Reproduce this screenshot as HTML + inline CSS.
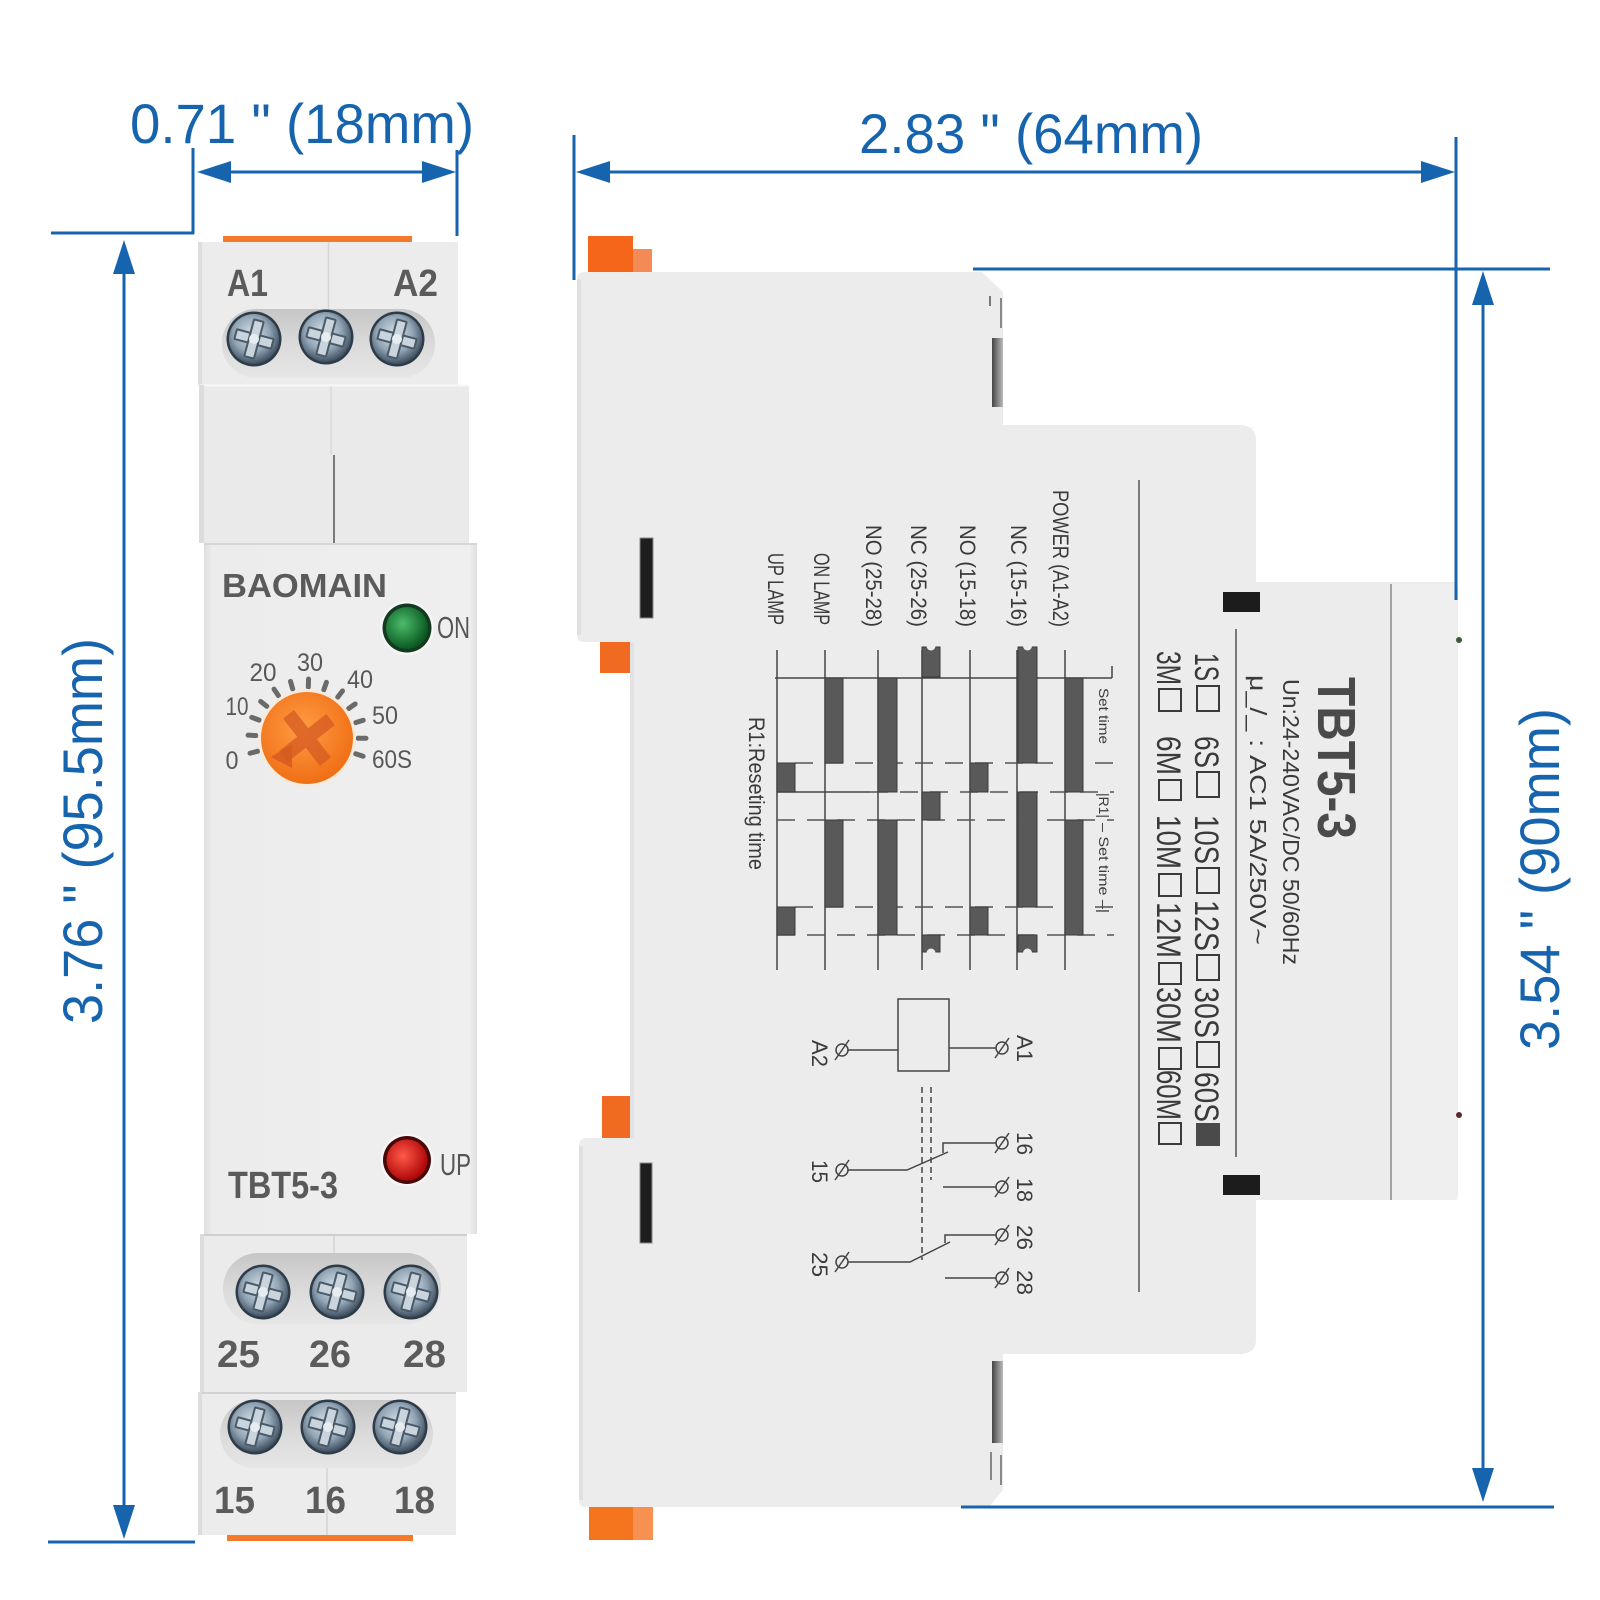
<!DOCTYPE html>
<html><head><meta charset="utf-8"><style>html,body{margin:0;padding:0;background:#fff}svg{display:block}</style></head>
<body>
<svg width="1600" height="1600" viewBox="0 0 1600 1600" xmlns="http://www.w3.org/2000/svg" font-family="'Liberation Sans', Arial, sans-serif">
<defs>
<radialGradient id="sg" cx="45%" cy="40%" r="60%"><stop offset="0" stop-color="#d6e0e8"/><stop offset="0.6" stop-color="#93a6b6"/><stop offset="1" stop-color="#3e4f60"/></radialGradient>
<linearGradient id="bar" x1="0" y1="0" x2="0" y2="1"><stop offset="0" stop-color="#c6c6c6"/><stop offset="0.5" stop-color="#dadada"/><stop offset="1" stop-color="#e6e6e6"/></linearGradient>
<radialGradient id="dial" cx="45%" cy="40%" r="60%"><stop offset="0" stop-color="#ff9c45"/><stop offset="1" stop-color="#f06f15"/></radialGradient>
<radialGradient id="grn" cx="40%" cy="40%" r="60%"><stop offset="0" stop-color="#4cbc6a"/><stop offset="1" stop-color="#0b5a22"/></radialGradient>
<radialGradient id="red" cx="40%" cy="40%" r="60%"><stop offset="0" stop-color="#ff5a4a"/><stop offset="1" stop-color="#b00808"/></radialGradient>
<linearGradient id="face" x1="0" y1="0" x2="1" y2="0"><stop offset="0" stop-color="#dedede"/><stop offset="0.03" stop-color="#ececec"/><stop offset="0.97" stop-color="#efefef"/><stop offset="1" stop-color="#e0e0e0"/></linearGradient>
<linearGradient id="slot" x1="0" y1="0" x2="1" y2="0"><stop offset="0" stop-color="#444"/><stop offset="1" stop-color="#bbb"/></linearGradient>
<g id="scr"><circle r="27.5" fill="#2e3b48"/><circle r="25" fill="url(#sg)"/><g transform="rotate(15)" fill="#c9d4dc" stroke="#4a5a69" stroke-width="2"><rect x="-19" y="-5" width="38" height="10" rx="1"/><rect x="-5" y="-19" width="10" height="38" rx="1"/></g><circle r="5" fill="#e6ecf0"/></g>
</defs>
<rect width="1600" height="1600" fill="#fff"/>

<!-- ============ LEFT DEVICE ============ -->
<rect x="223" y="236" width="189" height="7" fill="#f4792b"/>
<rect x="198" y="242" width="260" height="143" fill="#ececec"/>
<rect x="198" y="242" width="4" height="143" fill="#dedede"/>
<line x1="328.5" y1="242" x2="328.5" y2="309" stroke="#d6d6d6" stroke-width="1.5"/>
<rect x="222" y="309" width="213" height="69" rx="34" fill="url(#bar)"/>
<use href="#scr" transform="translate(254,339)"/>
<use href="#scr" transform="translate(326,337)"/>
<use href="#scr" transform="translate(397,339)"/>
<text x="227" y="296" font-size="38" font-weight="bold" fill="#5b5b5b" textLength="41" lengthAdjust="spacingAndGlyphs">A1</text>
<text x="393" y="296" font-size="38" font-weight="bold" fill="#5b5b5b" textLength="45" lengthAdjust="spacingAndGlyphs">A2</text>

<rect x="199" y="385" width="270" height="158" fill="#eaeaea"/>
<line x1="199" y1="385.5" x2="469" y2="385.5" stroke="#f7f7f7" stroke-width="2"/>
<rect x="199" y="385" width="5" height="158" fill="#dcdcdc"/>
<line x1="331" y1="386" x2="331" y2="455" stroke="#dadada" stroke-width="1.5"/>
<line x1="334" y1="455" x2="334" y2="543" stroke="#555" stroke-width="1.5"/>

<rect x="204" y="543" width="273" height="691" fill="url(#face)"/>
<line x1="204" y1="544" x2="477" y2="544" stroke="#d6d6d6" stroke-width="2"/>
<text x="222" y="597" font-size="33" font-weight="bold" fill="#5a5a5a" textLength="165" lengthAdjust="spacingAndGlyphs">BAOMAIN</text>
<circle cx="407" cy="628" r="27" fill="#f6f6f6"/>
<circle cx="407" cy="628" r="24.5" fill="#143a1f"/>
<circle cx="407" cy="628" r="21" fill="url(#grn)"/>
<text x="437" y="638" font-size="31" fill="#555" textLength="33" lengthAdjust="spacingAndGlyphs">ON</text>

<!-- dial -->
<g transform="translate(307,738)" stroke="#6a6a6a" stroke-width="5" stroke-linecap="round">
<line x1="51" y1="0" x2="59" y2="0" transform="rotate(165)"/>
<line x1="51" y1="0" x2="59" y2="0" transform="rotate(182.75)"/>
<line x1="51" y1="0" x2="59" y2="0" transform="rotate(200.5)"/>
<line x1="51" y1="0" x2="59" y2="0" transform="rotate(218.25)"/>
<line x1="51" y1="0" x2="59" y2="0" transform="rotate(236)"/>
<line x1="51" y1="0" x2="59" y2="0" transform="rotate(253.75)"/>
<line x1="51" y1="0" x2="59" y2="0" transform="rotate(271.5)"/>
<line x1="51" y1="0" x2="59" y2="0" transform="rotate(289.25)"/>
<line x1="51" y1="0" x2="59" y2="0" transform="rotate(307)"/>
<line x1="51" y1="0" x2="59" y2="0" transform="rotate(324.75)"/>
<line x1="51" y1="0" x2="59" y2="0" transform="rotate(342.5)"/>
<line x1="51" y1="0" x2="59" y2="0" transform="rotate(360.25)"/>
<line x1="51" y1="0" x2="59" y2="0" transform="rotate(378)"/>
</g>
<circle cx="307" cy="738" r="49" fill="#f7e9dc"/>
<circle cx="307" cy="738" r="46" fill="url(#dial)"/>
<g transform="translate(307,738) rotate(-38)" fill="#d65a22" opacity="0.75">
<rect x="-30" y="-7" width="60" height="14"/>
<rect x="-7" y="-30" width="14" height="60"/>
</g>
<polygon points="271,757 292,744 292,768" fill="#d65a22" opacity="0.85"/>
<g font-size="25" fill="#585858" text-anchor="middle">
<text x="232" y="769" textLength="13" lengthAdjust="spacingAndGlyphs">0</text>
<text x="237" y="715" textLength="23" lengthAdjust="spacingAndGlyphs">10</text>
<text x="263" y="681" textLength="27" lengthAdjust="spacingAndGlyphs">20</text>
<text x="310" y="671" textLength="26" lengthAdjust="spacingAndGlyphs">30</text>
<text x="360" y="688" textLength="26" lengthAdjust="spacingAndGlyphs">40</text>
<text x="385" y="724" textLength="26" lengthAdjust="spacingAndGlyphs">50</text>
<text x="392" y="768" textLength="40" lengthAdjust="spacingAndGlyphs">60S</text>
</g>

<circle cx="407" cy="1160" r="26.5" fill="#f6f6f6"/>
<circle cx="407" cy="1160" r="24" fill="#4a0808"/>
<circle cx="407" cy="1160" r="20.5" fill="url(#red)"/>
<text x="440" y="1175" font-size="31" fill="#555" textLength="31" lengthAdjust="spacingAndGlyphs">UP</text>
<text x="228" y="1198" font-size="38" font-weight="bold" fill="#5a5a5a" textLength="110" lengthAdjust="spacingAndGlyphs">TBT5-3</text>

<rect x="200" y="1234" width="267" height="158" fill="#ebebeb"/>
<line x1="200" y1="1235" x2="467" y2="1235" stroke="#cfcfcf" stroke-width="2"/>
<rect x="200" y="1234" width="4" height="158" fill="#dcdcdc"/>
<line x1="334" y1="1236" x2="334" y2="1253" stroke="#d4d4d4" stroke-width="1.5"/>
<rect x="223" y="1253" width="218" height="71" rx="35" fill="url(#bar)"/>
<use href="#scr" transform="translate(263,1292)"/>
<use href="#scr" transform="translate(337,1292)"/>
<use href="#scr" transform="translate(411,1292)"/>
<g font-size="38" font-weight="bold" fill="#5b5b5b">
<text x="217" y="1367" textLength="43" lengthAdjust="spacingAndGlyphs">25</text>
<text x="309" y="1367" textLength="42" lengthAdjust="spacingAndGlyphs">26</text>
<text x="403" y="1367" textLength="43" lengthAdjust="spacingAndGlyphs">28</text>
</g>

<rect x="198" y="1392" width="258" height="143" fill="#ececec"/>
<line x1="198" y1="1393" x2="456" y2="1393" stroke="#d2d2d2" stroke-width="2"/>
<rect x="198" y="1392" width="4" height="143" fill="#dcdcdc"/>
<line x1="327" y1="1468" x2="327" y2="1535" stroke="#d4d4d4" stroke-width="1.5"/>
<rect x="220" y="1400" width="213" height="68" rx="34" fill="url(#bar)"/>
<use href="#scr" transform="translate(255,1427)"/>
<use href="#scr" transform="translate(328,1427)"/>
<use href="#scr" transform="translate(400,1427)"/>
<g font-size="38" font-weight="bold" fill="#5b5b5b">
<text x="214" y="1513" textLength="41" lengthAdjust="spacingAndGlyphs">15</text>
<text x="305" y="1513" textLength="41" lengthAdjust="spacingAndGlyphs">16</text>
<text x="394" y="1513" textLength="41" lengthAdjust="spacingAndGlyphs">18</text>
</g>
<rect x="227" y="1535" width="186" height="6" fill="#f4792b"/>

<!-- ============ RIGHT DEVICE ============ -->
<rect x="588" y="236" width="45" height="37" fill="#f5651a"/>
<rect x="633" y="249" width="19" height="24" fill="#f48a55"/>
<rect x="600" y="640" width="30" height="33" fill="#f06a22"/>
<rect x="602" y="1096" width="28" height="42" fill="#f06a22"/>
<rect x="589" y="1500" width="64" height="40" fill="#f5741e"/>
<rect x="633" y="1507" width="20" height="33" fill="#f79050"/>

<path d="M577,279 Q577,272 584,272 L982,272 L1003,292 L1003,425 L1240,425 Q1256,425 1256,441 L1256,582 L1452,582 Q1458,582 1458,588 L1458,1194 Q1458,1200 1452,1200 L1256,1200 L1256,1340 Q1256,1354 1240,1354 L1003,1354 L1003,1490 L989,1507 L586,1507 Q579,1507 579,1500 L579,1146 Q579,1138 587,1138 L630,1138 L630,642 L584,642 Q577,642 577,635 Z" fill="#ececec"/>
<rect x="577" y="279" width="4" height="356" fill="#e0e0e0"/>
<rect x="579" y="1146" width="4" height="354" fill="#e0e0e0"/>
<rect x="630" y="642" width="4" height="496" fill="#e2e2e2"/>
<rect x="1391" y="584" width="66" height="616" fill="#efefef"/>
<line x1="1391" y1="584" x2="1391" y2="1200" stroke="#8c8c8c" stroke-width="1.5"/>
<!-- side slots -->
<rect x="992" y="338" width="11" height="69" fill="url(#slot)"/>
<rect x="989" y="296" width="2" height="10" fill="#777"/>
<rect x="1000" y="298" width="2" height="30" fill="#888"/>
<rect x="992" y="1361" width="11" height="82" fill="url(#slot)"/>
<rect x="990" y="1452" width="2" height="28" fill="#888"/>
<rect x="1000" y="1455" width="2" height="30" fill="#888"/>
<rect x="640" y="538" width="13" height="80" fill="#1e1e1e" stroke="#888" stroke-width="1"/>
<rect x="640" y="1163" width="12" height="80" fill="#1e1e1e" stroke="#888" stroke-width="1"/>
<rect x="1223" y="592" width="37" height="20" fill="#1c1c1c"/>
<rect x="1223" y="1175" width="37" height="20" fill="#1c1c1c"/>
<circle cx="1459" cy="640" r="3" fill="#3a5a3a"/>
<circle cx="1459" cy="1115" r="3" fill="#5a2a2a"/>

<!-- label lines -->
<line x1="1139" y1="480" x2="1139" y2="1292" stroke="#555" stroke-width="1.5"/>
<line x1="1236" y1="629" x2="1236" y2="1157" stroke="#555" stroke-width="1.5"/>

<!-- timing diagram -->
<g stroke="#444" stroke-width="1.5">
<line x1="777" y1="650" x2="777" y2="970"/>
<line x1="825" y1="650" x2="825" y2="970"/>
<line x1="878" y1="650" x2="878" y2="970"/>
<line x1="922" y1="650" x2="922" y2="970"/>
<line x1="970" y1="650" x2="970" y2="970"/>
<line x1="1017" y1="650" x2="1017" y2="970"/>
<line x1="1065" y1="650" x2="1065" y2="970"/>
<line x1="775" y1="678" x2="1112" y2="678"/>
<line x1="1112" y1="666" x2="1112" y2="678"/>
<line x1="777" y1="792" x2="870" y2="792"/>
</g>
<g stroke="#555" stroke-width="1.5" stroke-dasharray="18 12">
<line x1="795" y1="763" x2="1114" y2="763"/>
<line x1="870" y1="792" x2="1114" y2="792"/>
<line x1="777" y1="820" x2="1114" y2="820"/>
<line x1="795" y1="907" x2="1114" y2="907"/>
<line x1="777" y1="935" x2="1114" y2="935"/>
</g>
<g fill="#595959" stroke="#3a3a3a" stroke-width="1">
<rect x="1065" y="678" width="18" height="114"/><rect x="1065" y="820" width="18" height="115"/>
<rect x="1018" y="647" width="19" height="116"/><rect x="1018" y="792" width="19" height="115"/><rect x="1018" y="935" width="19" height="17"/>
<rect x="970" y="763" width="18" height="29"/><rect x="970" y="907" width="18" height="28"/>
<rect x="922" y="647" width="18" height="30"/><rect x="922" y="792" width="18" height="28"/><rect x="922" y="935" width="18" height="17"/>
<rect x="878" y="678" width="19" height="114"/><rect x="878" y="820" width="19" height="115"/>
<rect x="825" y="678" width="18" height="85"/><rect x="825" y="820" width="18" height="87"/>
<rect x="777" y="763" width="18" height="29"/><rect x="777" y="907" width="18" height="28"/>
</g>
<g fill="#ececec">
<circle cx="1027.5" cy="646" r="4.5"/><circle cx="1027.5" cy="953" r="4.5"/>
<circle cx="931" cy="646" r="4.5"/><circle cx="931" cy="953" r="4.5"/>
</g>

<!-- wiring diagram -->
<g stroke="#444" stroke-width="1.5" fill="none">
<rect x="898" y="999" width="51" height="72"/>
<line x1="848" y1="1050" x2="898" y2="1050"/>
<line x1="949" y1="1048" x2="996" y2="1048"/>
<line x1="922" y1="1087" x2="922" y2="1260" stroke-dasharray="6 4"/>
<line x1="931" y1="1087" x2="931" y2="1180" stroke-dasharray="6 4"/>
<polyline points="848,1170 907,1170 948,1152"/>
<polyline points="943,1153 943,1143 996,1143"/>
<line x1="943" y1="1187" x2="996" y2="1187"/>
<polyline points="848,1262 910,1262 950,1242"/>
<polyline points="945,1243 945,1235 996,1235"/>
<line x1="945" y1="1278" x2="996" y2="1278"/>
<circle cx="842" cy="1050" r="6"/><line x1="835" y1="1060" x2="849" y2="1040"/>
<circle cx="1002" cy="1048" r="6"/><line x1="995" y1="1058" x2="1009" y2="1038"/>
<circle cx="842" cy="1170" r="6"/><line x1="835" y1="1180" x2="849" y2="1160"/>
<circle cx="1002" cy="1143" r="6"/><line x1="995" y1="1153" x2="1009" y2="1133"/>
<circle cx="1002" cy="1187" r="6"/><line x1="995" y1="1197" x2="1009" y2="1177"/>
<circle cx="842" cy="1262" r="6"/><line x1="835" y1="1272" x2="849" y2="1252"/>
<circle cx="1002" cy="1235" r="6"/><line x1="995" y1="1245" x2="1009" y2="1225"/>
<circle cx="1002" cy="1278" r="6"/><line x1="995" y1="1288" x2="1009" y2="1268"/>
</g>

<!-- rotated texts (read top to bottom) -->
<g transform="rotate(90)" fill="#3a3a3a">
<text x="490" y="-1053" font-size="22" textLength="137" lengthAdjust="spacingAndGlyphs">POWER (A1-A2)</text>
<text x="525" y="-1011" font-size="22" textLength="102" lengthAdjust="spacingAndGlyphs">NC (15-16)</text>
<text x="525" y="-960" font-size="22" textLength="102" lengthAdjust="spacingAndGlyphs">NO (15-18)</text>
<text x="525" y="-911" font-size="22" textLength="102" lengthAdjust="spacingAndGlyphs">NC (25-26)</text>
<text x="525" y="-866" font-size="22" textLength="102" lengthAdjust="spacingAndGlyphs">NO (25-28)</text>
<text x="553" y="-814" font-size="22" textLength="72" lengthAdjust="spacingAndGlyphs">ON LAMP</text>
<text x="553" y="-768" font-size="22" textLength="72" lengthAdjust="spacingAndGlyphs">UP LAMP</text>
<text x="717" y="-749" font-size="22" textLength="153" lengthAdjust="spacingAndGlyphs">R1:Reseting time</text>
<text x="688" y="-1099" font-size="14" textLength="56" lengthAdjust="spacingAndGlyphs">Set time</text>
<text x="793" y="-1099" font-size="14" textLength="25" lengthAdjust="spacingAndGlyphs">|R1|</text>
<text x="823" y="-1099" font-size="14" textLength="90" lengthAdjust="spacingAndGlyphs">– Set time –|</text>
<text x="1035" y="-1017" font-size="22" textLength="27" lengthAdjust="spacingAndGlyphs">A1</text>
<text x="1040" y="-812" font-size="22" textLength="27" lengthAdjust="spacingAndGlyphs">A2</text>
<text x="1132" y="-1017" font-size="22" textLength="23" lengthAdjust="spacingAndGlyphs">16</text>
<text x="1178" y="-1017" font-size="22" textLength="24" lengthAdjust="spacingAndGlyphs">18</text>
<text x="1225" y="-1017" font-size="22" textLength="25" lengthAdjust="spacingAndGlyphs">26</text>
<text x="1270" y="-1017" font-size="22" textLength="25" lengthAdjust="spacingAndGlyphs">28</text>
<text x="1160" y="-812" font-size="22" textLength="23" lengthAdjust="spacingAndGlyphs">15</text>
<text x="1252" y="-812" font-size="22" textLength="25" lengthAdjust="spacingAndGlyphs">25</text>
<text x="677" y="-1318" font-size="54" font-weight="bold" fill="#4a4a4a" textLength="162" lengthAdjust="spacingAndGlyphs">TBT5-3</text>
<text x="679" y="-1283" font-size="23" textLength="286" lengthAdjust="spacingAndGlyphs">Un:24-240VAC/DC 50/60Hz</text>
<text x="675" y="-1250" font-size="23" textLength="270" lengthAdjust="spacingAndGlyphs">μ_/_ : AC1 5A/250V~</text>
<g font-size="34">
<text x="653" y="-1195" textLength="28" lengthAdjust="spacingAndGlyphs">1S</text>
<text x="736" y="-1195" textLength="32" lengthAdjust="spacingAndGlyphs">6S</text>
<text x="815" y="-1195" textLength="49" lengthAdjust="spacingAndGlyphs">10S</text>
<text x="900" y="-1195" textLength="51" lengthAdjust="spacingAndGlyphs">12S</text>
<text x="987" y="-1195" textLength="51" lengthAdjust="spacingAndGlyphs">30S</text>
<text x="1072" y="-1195" textLength="50" lengthAdjust="spacingAndGlyphs">60S</text>
<text x="651" y="-1157" textLength="34" lengthAdjust="spacingAndGlyphs">3M</text>
<text x="736" y="-1157" textLength="39" lengthAdjust="spacingAndGlyphs">6M</text>
<text x="815" y="-1157" textLength="54" lengthAdjust="spacingAndGlyphs">10M</text>
<text x="902" y="-1157" textLength="56" lengthAdjust="spacingAndGlyphs">12M</text>
<text x="987" y="-1157" textLength="56" lengthAdjust="spacingAndGlyphs">30M</text>
<text x="1070" y="-1157" textLength="50" lengthAdjust="spacingAndGlyphs">60M</text>
</g>
</g>
<g fill="none" stroke="#3a3a3a" stroke-width="2">
<rect x="1197" y="686" width="22" height="25"/>
<rect x="1197" y="772" width="22" height="25"/>
<rect x="1197" y="868" width="22" height="25"/>
<rect x="1197" y="955" width="22" height="25"/>
<rect x="1197" y="1042" width="22" height="25"/>
<rect x="1159" y="689" width="22" height="22"/>
<rect x="1159" y="780" width="22" height="20"/>
<rect x="1159" y="874" width="22" height="22"/>
<rect x="1159" y="963" width="22" height="21"/>
<rect x="1159" y="1048" width="22" height="21"/>
<rect x="1159" y="1123" width="22" height="21"/>
</g>
<rect x="1196" y="1123" width="24" height="23" fill="#4a4a4a"/>

<!-- ============ DIMENSIONS ============ -->
<g stroke="#1764ae" stroke-width="3" fill="none">
<line x1="51" y1="233" x2="194" y2="233"/>
<line x1="193" y1="148" x2="193" y2="234"/>
<line x1="457" y1="150" x2="457" y2="236"/>
<line x1="48" y1="1542" x2="195" y2="1542"/>
<line x1="574" y1="135" x2="574" y2="280"/>
<line x1="1456" y1="137" x2="1456" y2="600"/>
<line x1="973" y1="269" x2="1550" y2="269"/>
<line x1="961" y1="1507" x2="1554" y2="1507"/>
<line x1="220" y1="172" x2="433" y2="172"/>
<line x1="600" y1="172" x2="1430" y2="172"/>
<line x1="124" y1="265" x2="124" y2="1515"/>
<line x1="1483" y1="296" x2="1483" y2="1477"/>
</g>
<g fill="#1764ae">
<polygon points="197,172 231,161 231,183"/>
<polygon points="456,172 422,161 422,183"/>
<polygon points="576,172 610,161 610,183"/>
<polygon points="1455,172 1421,161 1421,183"/>
<polygon points="124,240 113,274 135,274"/>
<polygon points="124,1539 113,1505 135,1505"/>
<polygon points="1483,271 1472,305 1494,305"/>
<polygon points="1483,1502 1472,1468 1494,1468"/>
</g>
<g fill="#1764ae" font-size="56">
<text x="130" y="143" textLength="344" lengthAdjust="spacingAndGlyphs">0.71 &quot; (18mm)</text>
<text x="859" y="153" textLength="344" lengthAdjust="spacingAndGlyphs">2.83 &quot; (64mm)</text>
<text transform="translate(102,1024) rotate(-90)" x="0" y="0" textLength="386" lengthAdjust="spacingAndGlyphs">3.76 &quot; (95.5mm)</text>
<text transform="translate(1559,1050) rotate(-90)" x="0" y="0" textLength="342" lengthAdjust="spacingAndGlyphs">3.54 &quot; (90mm)</text>
</g>
</svg>
</body></html>
